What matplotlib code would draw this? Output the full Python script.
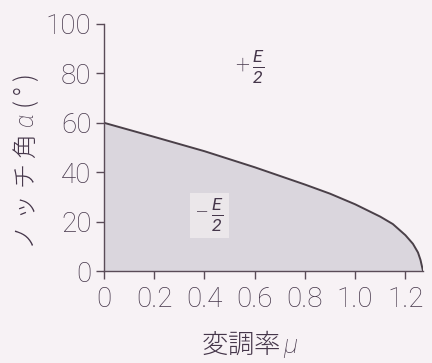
import matplotlib
matplotlib.use("Agg")
import matplotlib.pyplot as plt

# notch angle versus modulation index
mu = [0, 0.2, 0.4, 0.6, 0.8, 0.9, 1.0, 1.1, 1.15, 1.2, 1.23, 1.25, 1.26, 1.27]
alpha = [60, 54.3, 48.5, 42, 35, 31.3, 27, 22, 19, 14.5, 11, 7.5, 4.5, 0]

x_ticks = [0, 0.2, 0.4, 0.6, 0.8, 1.0, 1.2]
x_tick_labels = ["0", "0.2", "0.4", "0.6", "0.8", "1.0", "1.2"]
y_ticks = [0, 20, 40, 60, 80, 100]

bg = "#f7f2f5"
ink = "#45364a"

plt.rcParams["font.family"] = ["Noto Sans CJK JP", "DejaVu Sans"]
plt.rcParams["mathtext.fontset"] = "custom"
plt.rcParams["mathtext.it"] = "Roboto:italic:light"
plt.rcParams["mathtext.rm"] = "Roboto:light"
# regular-weight italic, used for the E/2 fractions
plt.rcParams["mathtext.bf"] = "Roboto:italic"

fig = plt.figure(figsize=(4.32, 3.63), dpi=100, facecolor=bg)
ax = fig.add_axes([104 / 432, 92 / 363, 319 / 432, 247 / 363])
ax.set_facecolor(bg)

ax.fill_between(mu, alpha, 0, color="#dad6dd", lw=0)
ax.plot(mu, alpha, color="#4a4048", lw=1.4)

ax.set_xlim(0, 1.27)
ax.set_ylim(0, 100)
ax.set_xticks(x_ticks)
ax.set_xticklabels(x_tick_labels)
ax.set_yticks(y_ticks)

for side in ("top", "right"):
    ax.spines[side].set_visible(False)
for side in ("left", "bottom"):
    ax.spines[side].set_color("#5a4c58")
    ax.spines[side].set_linewidth(1.0)

ax.tick_params(direction="out", length=6, width=1.0, color="#5a4c58",
               labelcolor=ink, labelsize=20, pad=3)
ax.tick_params(axis="x", pad=5)
for lab in ax.get_xticklabels() + ax.get_yticklabels():
    lab.set_family("Roboto")
    lab.set_fontweight("light")

ax.text(0.58, 82.5, r"$+\,\frac{\mathbf{E}}{\mathbf{2}}$", color=ink,
        fontsize=18, ha="center", va="center")
ax.text(0.42, 22.5, r"$-\,\frac{\mathbf{E}}{\mathbf{2}}$", color=ink,
        fontsize=18, ha="center", va="center",
        bbox=dict(facecolor="#ebe7ea", edgecolor="none", pad=3))

fig.text(26 / 432, 1 - 162 / 363, r"ノ ッ チ 角 $\alpha$ ( ° )", rotation=90,
         ha="center", va="center", color=ink, fontsize=18, fontweight="light")
fig.text(250 / 432, 1 - 344 / 363, r"変調率$\,\mu$", ha="center",
         va="center", color=ink, fontsize=19, fontweight="light")

fig.savefig("out.png", dpi=100, facecolor=bg)
